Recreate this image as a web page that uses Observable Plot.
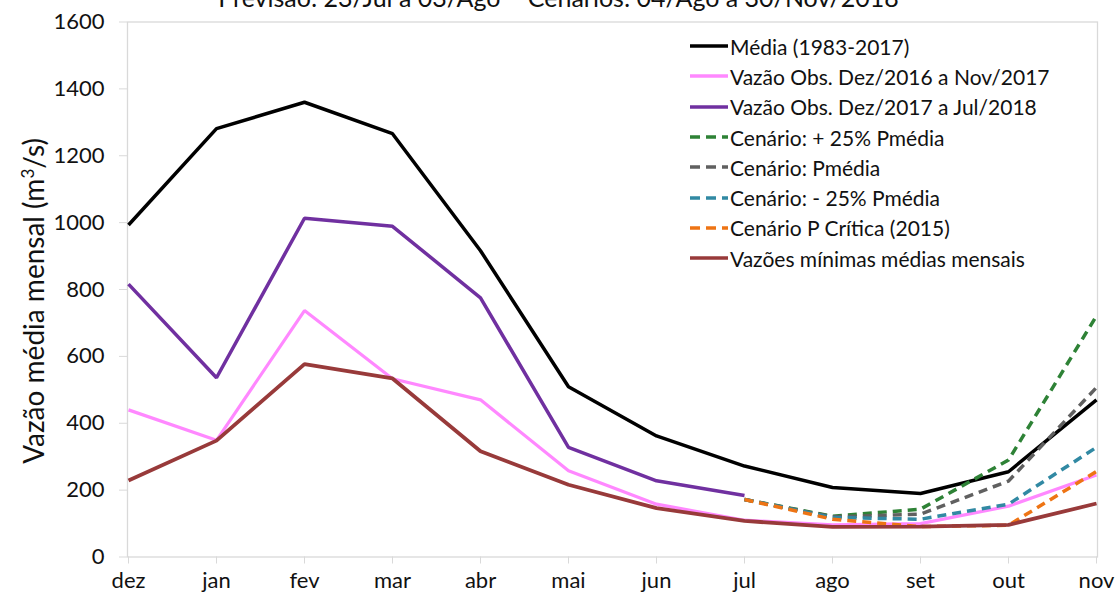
<!DOCTYPE html>
<html>
<head>
<meta charset="utf-8">
<script src="https://cdn.jsdelivr.net/npm/d3@7"></script>
<script src="https://cdn.jsdelivr.net/npm/@observablehq/plot@0.6"></script>
<style>
  html, body { margin: 0; padding: 0; background: #fff; overflow: hidden; }
  body { font-family: Lato, "Open Sans", sans-serif; }
  #wrap { position: relative; width: 1117px; height: 598px; }
  #title { position: absolute; left: 0; width: 1117px; top: -15px; text-align: center;
           font-size: 25px; line-height: 25px; color: #111; white-space: nowrap; }
  #ylabel { position: absolute; left: 33px; top: 301px; transform: translate(-50%, -50%) rotate(-90deg);
            font-size: 28px; color: #111; white-space: nowrap; }
  #ylabel sup { font-size: 17px; }
  #legend { position: absolute; left: 690px; top: 31px; font-size: 21px; color: #111; }
  .row { display: flex; align-items: center; height: 30.3px; white-space: nowrap; }
  .row svg { width: 40px; height: 12px; flex: none; }
</style>
</head>
<body>
<div id="wrap">
  <div id="chart"></div>
  <div id="title"></div>
  <div id="ylabel">Vazão média mensal (m<sup>3</sup>/s)</div>
  <div id="legend"></div>
</div>
<script>
const titleText = "Previsão: 23/Jul a 03/Ago – Cenários: 04/Ago a 30/Nov/2018";
const months = ["dez","jan","fev","mar","abr","mai","jun","jul","ago","set","out","nov"];
const yTicks = [0,200,400,600,800,1000,1200,1400,1600];

const media    = [993,1281,1360,1266,916,509,362,272,208,190,255,470];
const obs1617  = [440,349,737,533,470,258,158,110,96,100,152,245];
const obs1718  = [816,536,1013,989,775,328,228,184,null,null,null,null];
const cenMais  = [null,null,null,null,null,null,null,172,122,143,290,721];
const cenMedia = [null,null,null,null,null,null,null,172,120,128,227,507];
const cenMenos = [null,null,null,null,null,null,null,172,118,113,158,328];
const cenCrit  = [null,null,null,null,null,null,null,172,113,91,95,256];
const minimas  = [229,348,577,534,316,216,146,108,90,91,96,160];

const seriesNames = [
  "Média (1983-2017)",
  "Vazão Obs. Dez/2016 a Nov/2017",
  "Vazão Obs. Dez/2017 a Jul/2018",
  "Cenário: + 25% Pmédia",
  "Cenário: Pmédia",
  "Cenário: - 25% Pmédia",
  "Cenário P Crítica (2015)",
  "Vazões mínimas médias mensais"
];
const seriesValues = [media, obs1617, obs1718, cenMais, cenMedia, cenMenos, cenCrit, minimas];
const seriesColors = ["#000000","#ff88ff","#7030a0","#2e8236","#606060","#3189a3","#ee7414","#983a3a"];
const seriesWidths = [3.5, 3.2, 3.5, 3.5, 3.5, 3.5, 3.5, 3.8];
const seriesDash   = [null, null, null, "9,6", "9,6", "9,6", "9,6", null];

const tables = seriesValues.map(vals =>
  months.map((m, i) => ({month: m, value: vals[i]})).filter(d => d.value != null));

const marks = [
  Plot.frame({stroke: "#d9d9d9", strokeWidth: 1.3}),
  Plot.axisY({ticks: yTicks, tickFormat: d => String(d), tickSize: 8, tickPadding: 15,
              stroke: "#d9d9d9", fill: "#111", fontSize: 22, label: null}),
  Plot.axisX({tickSize: 7, tickPadding: 8, stroke: "#d9d9d9", fill: "#111", fontSize: 22, label: null}),
  ...tables.map((t, k) => Plot.line(t, {
    x: "month", y: "value", stroke: seriesColors[k], strokeWidth: seriesWidths[k],
    strokeDasharray: seriesDash[k], strokeLinejoin: "miter", strokeLinecap: "butt"
  }))
];

const chart = Plot.plot({
  width: 1117,
  height: 598,
  marginTop: 21.5,
  marginBottom: 41.5,
  marginLeft: 127,
  marginRight: 20,
  style: {fontFamily: "Lato, 'Open Sans', sans-serif", background: "#fff"},
  x: {type: "point", domain: months, padding: 0},
  y: {domain: [0, 1600]},
  marks
});
document.getElementById("chart").appendChild(chart);
document.getElementById("title").textContent = titleText;

const legend = document.getElementById("legend");
seriesNames.forEach((name, k) => {
  const row = document.createElement("div");
  row.className = "row";
  const dash = seriesDash[k] ? `stroke-dasharray="10,6"` : "";
  row.innerHTML = `<svg viewBox="0 0 40 12"><line x1="0" y1="6" x2="38" y2="6" stroke="${seriesColors[k]}" stroke-width="3.5" ${dash}/></svg><span></span>`;
  row.querySelector("span").textContent = name;
  legend.appendChild(row);
});
</script>
</body>
</html>
